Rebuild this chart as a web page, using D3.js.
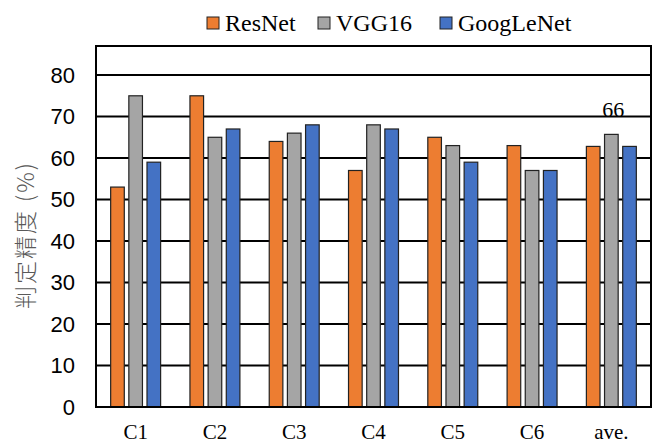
<!DOCTYPE html>
<html>
<head>
<meta charset="utf-8">
<script src="https://cdn.jsdelivr.net/npm/d3@7"></script>
<style>
  html, body { margin: 0; padding: 0; background: #fff; }
  svg { display: block; }
</style>
</head>
<body>
<div id="chart"></div>
<script>
// Classification accuracy per class for three CNN models
const categories = ["C1", "C2", "C3", "C4", "C5", "C6", "ave."];
const seriesNames = ["ResNet", "VGG16", "GoogLeNet"];
const resnet    = [53, 75, 64, 57, 65, 63, 62.8];
const vgg16     = [75, 65, 66, 68, 63, 57, 65.7];
const googlenet = [59, 67, 68, 67, 59, 57, 62.8];
const yTicks = [0, 10, 20, 30, 40, 50, 60, 70, 80];
const colors = ["#ED7D31", "#A5A5A5", "#4472C4"];
const annotated = { category: "ave.", series: "VGG16", text: "66" };

const seriesValues = [resnet, vgg16, googlenet];

const serif = "'Liberation Serif', 'Times New Roman', serif";
const sans = "'Liberation Sans', Arial, sans-serif";

const W = 654, H = 445;
const margin = { top: 46, right: 3, bottom: 38, left: 96 };
const innerW = W - margin.left - margin.right;
const innerH = H - margin.top - margin.bottom;

const svg = d3.select("#chart").append("svg")
  .attr("width", W).attr("height", H);

const g = svg.append("g").attr("transform", `translate(${margin.left},${margin.top})`);

const x0 = d3.scaleBand().domain(categories).range([0, innerW]).paddingInner(0.37).paddingOuter(0.185);
const x1 = d3.scaleBand().domain(seriesNames).range([0, x0.bandwidth()]).paddingInner(0.25);
const y = d3.scaleLinear().domain([0, 87]).range([innerH, 0]);

// horizontal gridlines
g.append("g")
  .selectAll("line")
  .data(yTicks.filter(t => t > 0))
  .join("line")
  .attr("x1", 0).attr("x2", innerW)
  .attr("y1", d => y(d)).attr("y2", d => y(d))
  .attr("stroke", "#000").attr("stroke-width", 2);

// bars
const groups = g.append("g").selectAll("g")
  .data(categories)
  .join("g")
  .attr("transform", d => `translate(${x0(d)},0)`);

groups.selectAll("rect")
  .data((c, i) => seriesNames.map((s, k) => ({ s, v: seriesValues[k][i], k })))
  .join("rect")
  .attr("x", d => x1(d.s))
  .attr("y", d => y(d.v))
  .attr("width", x1.bandwidth())
  .attr("height", d => innerH - y(d.v))
  .attr("fill", d => colors[d.k])
  .attr("stroke", "#222")
  .attr("stroke-width", 1.2);

// value annotation
{
  const ci = categories.indexOf(annotated.category);
  const si = seriesNames.indexOf(annotated.series);
  g.append("text")
    .attr("x", x0(annotated.category) + x1(annotated.series) + x1.bandwidth() / 2 + 2)
    .attr("y", y(seriesValues[si][ci]) - 17)
    .attr("text-anchor", "middle")
    .attr("font-family", serif)
    .attr("font-size", 22)
    .attr("fill", "#000")
    .text(annotated.text);
}

// frame
g.append("rect")
  .attr("x", 0).attr("y", 0).attr("width", innerW).attr("height", innerH)
  .attr("fill", "none").attr("stroke", "#000").attr("stroke-width", 2);

// y axis labels
const yAxis = d3.axisLeft(y).tickValues(yTicks).tickSize(0).tickPadding(21);
const ya = g.append("g").call(yAxis);
ya.select(".domain").remove();
ya.selectAll("text")
  .attr("font-family", sans)
  .attr("font-size", 22)
  .attr("fill", "#000");

// x axis labels
const xAxis = d3.axisBottom(x0).tickSize(0).tickPadding(17);
const xa = g.append("g").attr("transform", `translate(0,${innerH})`).call(xAxis);
xa.select(".domain").remove();
xa.selectAll("text")
  .attr("font-family", serif)
  .attr("font-size", 21)
  .attr("fill", "#000");

// y axis title
svg.append("text")
  .attr("transform", `translate(34,235) rotate(-90)`)
  .attr("text-anchor", "middle")
  .attr("font-family", "'Noto Sans CJK JP', sans-serif")
  .attr("font-weight", 300)
  .attr("font-size", 23)
  .attr("letter-spacing", 2)
  .attr("fill", "#595959")
  .text("判定精度 (%)");

// legend
const legendX = [207, 318, 440];
const legend = svg.append("g");
seriesNames.forEach((s, k) => {
  const lg = legend.append("g").attr("transform", `translate(${legendX[k]},17)`);
  lg.append("rect").attr("x", 0).attr("y", 0).attr("width", 12).attr("height", 12)
    .attr("fill", colors[k]).attr("stroke", "#222").attr("stroke-width", 1);
  lg.append("text").attr("x", 18).attr("y", 14)
    .attr("font-family", serif)
    .attr("font-size", 24).attr("fill", "#000").text(s);
});
</script>
</body>
</html>
